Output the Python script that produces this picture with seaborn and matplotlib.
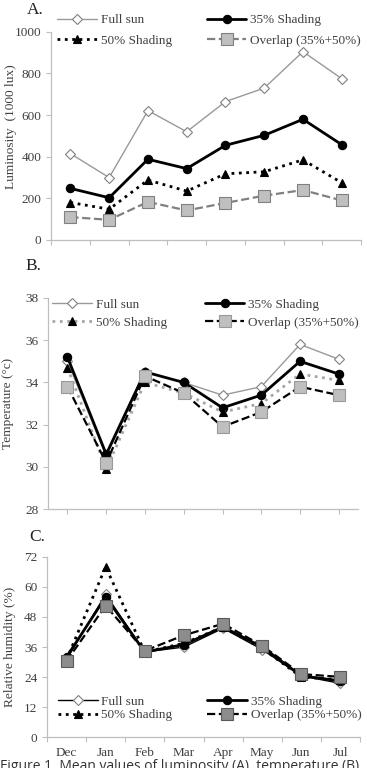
import pandas as pd
import matplotlib.pyplot as plt
import seaborn as sns

months = ["Dec", "Jan", "Feb", "Mar", "Apr", "May", "Jun", "Jul"]
series_names = ["Full sun", "35% Shading", "50% Shading", "Overlap (35%+50%)"]

# A. luminosity (1000 lux)
lum_full = [415, 300, 622, 520, 665, 730, 905, 775]
lum_35 = [248, 203, 388, 343, 455, 503, 580, 458]
lum_50 = [180, 148, 288, 235, 318, 328, 385, 275]
lum_overlap = [110, 97, 183, 142, 178, 213, 240, 190]

# B. temperature (°c)
temp_full = [35.0, 30.5, 34.5, 34.0, 33.4, 33.8, 35.8, 35.1]
temp_35 = [35.2, 30.6, 34.5, 34.0, 32.8, 33.4, 35.0, 34.4]
temp_50 = [34.7, 29.9, 34.0, 33.5, 32.6, 33.0, 34.4, 34.1]
temp_overlap = [33.8, 30.2, 34.3, 33.5, 31.9, 32.6, 33.8, 33.4]

# C. relative humidity (%)
hum_full = [31, 57, 34, 36, 43.5, 35, 24.5, 21.5]
hum_35 = [32, 56, 34, 37, 44, 36, 24.5, 22.5]
hum_50 = [31, 68, 34, 37.5, 44, 35.5, 24, 23]
hum_overlap = [30.4, 52.5, 34.5, 40.7, 45.3, 36.5, 25.2, 24.1]

sns.set_style("ticks")
plt.rcParams['font.family'] = ['Liberation Serif', 'DejaVu Serif']
plt.rcParams['font.size'] = 9
TXT = "#404040"
SPINE = "#bfbfbf"


def style_set(full_c, s50_c, ov_line, ov_face, ov_edge, full_lw=1.0):
    return [
        dict(color=full_c, linestyle="-", linewidth=full_lw, marker="D", markersize=5,
             markerfacecolor="white", markeredgecolor="#808080", markeredgewidth=0.8),
        dict(color="black", linestyle="-", linewidth=2.0, marker="o", markersize=6,
             markerfacecolor="black", markeredgecolor="black", markeredgewidth=0.8),
        dict(color=s50_c, linestyle=":", linewidth=2.0, marker="^", markersize=6,
             markerfacecolor="black", markeredgecolor="black", markeredgewidth=0.8),
        dict(color=ov_line, linestyle="--", linewidth=1.6, marker="s", markersize=8,
             markerfacecolor=ov_face, markeredgecolor=ov_edge, markeredgewidth=0.8),
    ]


def draw_panel(ax, series, styles, ylim, ystep, leg_box, labelspacing, ylabel, label_xy,
               month_labels=False, ticks_between=True):
    for name, vals, st in zip(series_names, series, styles):
        df = pd.DataFrame({"month": months, "value": vals})
        sns.lineplot(data=df, x="month", y="value", ax=ax, label=name, sort=False, **st)
    ax.set_xlim(-0.5, 7.5)
    ax.set_ylim(*ylim)
    ax.set_yticks(range(ylim[0], ylim[1] + 1, ystep))
    if ticks_between:
        ax.set_xticks([i - 0.5 for i in range(9)])
    else:
        ax.set_xticks(range(8))
    ax.set_xticklabels([])
    if month_labels:
        ax.set_xticks(range(8), minor=True)
        ax.set_xticklabels(months, minor=True, fontsize=9.5, color=TXT)
        ax.tick_params(axis="x", which="minor", length=0, pad=7)
    ax.set_xlabel("")
    ax.set_ylabel(ylabel, fontsize=9.6, color=TXT)
    ax.yaxis.set_label_coords(*label_xy)
    sns.despine(ax=ax)
    for sp in ("left", "bottom"):
        ax.spines[sp].set_color(SPINE)
        ax.spines[sp].set_linewidth(0.9)
    ax.tick_params(axis="both", which="major", color=SPINE, length=3.5, width=0.8,
                   labelcolor=TXT, labelsize=9.5)
    h, l = ax.get_legend_handles_labels()
    order = [0, 2, 1, 3]
    ax.legend([h[i] for i in order], [l[i] for i in order], ncol=2, loc="upper left",
              bbox_to_anchor=leg_box, mode="expand", frameon=False, borderaxespad=0,
              borderpad=0, handlelength=3.0, handletextpad=0.3, labelspacing=labelspacing,
              fontsize=9.5, labelcolor=TXT)


fig = plt.figure(figsize=(3.67, 7.68), dpi=100)
axA = fig.add_axes([0.139, 0.6875, 0.845, 0.271])
axB = fig.add_axes([0.131, 0.337, 0.845, 0.275])
axC = fig.add_axes([0.128, 0.040, 0.853, 0.235])

draw_panel(axA, [lum_full, lum_35, lum_50, lum_overlap],
           style_set("#999999", "black", "#808080", "#bfbfbf", "#808080"),
           (0, 1000), 200, (0.02, 0.0, 0.98, 1.085), 0.6, "Luminosity  (1000 lux)",
           (-0.11, 0.545))
draw_panel(axB, [temp_full, temp_35, temp_50, temp_overlap],
           style_set("#999999", "#a6a6a6", "black", "#bfbfbf", "#999999"),
           (28, 38), 2, (0.013, 0.0, 0.99, 0.998), 0.45, "Temperature (°c)",
           (-0.11, 0.5), ticks_between=False)
draw_panel(axC, [hum_full, hum_35, hum_50, hum_overlap],
           style_set("black", "black", "black", "#8c8c8c", "#595959"),
           (0, 72), 12, (0.035, 0.0, 0.97, 0.232), 0.12, "Relative humidity (%)",
           (-0.10, 0.5), month_labels=True)

fig.text(35 / 367, 1 - 10 / 768, "A.", fontsize=12.5, ha="center", va="center", color="#222222")
fig.text(33 / 367, 1 - 266 / 768, "B.", fontsize=12.5, ha="center", va="center", color="#222222")
fig.text(37 / 367, 1 - 537 / 768, "C.", fontsize=12.5, ha="center", va="center", color="#222222")

# caption is cut off at the bottom edge, as in the source figure
fig.text(0.0, -2 / 768, "Figure 1. Mean values of luminosity (A), temperature (B)",
         fontsize=10, ha="left", va="baseline", color="#333333", family="Open Sans")

fig.savefig("out.png", dpi=100)
